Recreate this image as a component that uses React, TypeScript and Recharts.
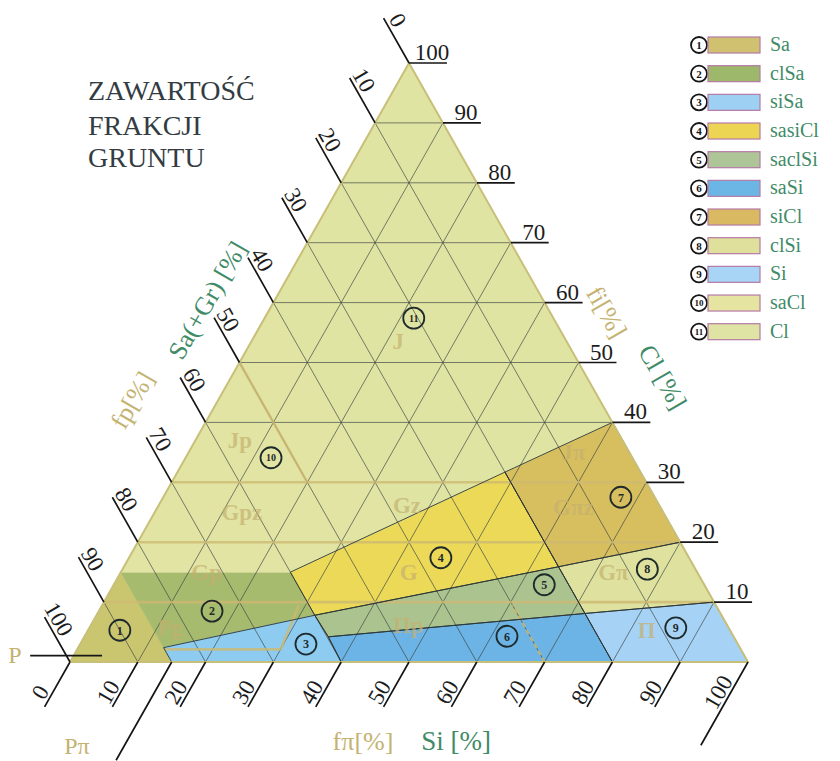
import React from 'react';
import { ScatterChart, Scatter, XAxis, YAxis } from 'recharts';

const WIDTH = 840;
const HEIGHT = 761;
const SERIF = '"Liberation Serif", "DejaVu Serif", serif';

// plot window: X = Si + Cl/2, Y = Cl (both in %), stretched over the whole page
const X_DOMAIN: [number, number] = [-10.324, 113.569];
const Y_DOMAIN: [number, number] = [-16.528, 110.518];

type TP = [number, number]; // [Si %, Cl %]

// --- Data ---
const classNames = ['Sa', 'clSa', 'siSa', 'sasiCl', 'saclSi', 'saSi', 'siCl', 'clSi', 'Si', 'saCl', 'Cl'];
const classFills = ['#cac670', '#a6bb6e', '#8ecbf1', '#ebd957', '#abc48f', '#6bb4e5', '#d7bf5f', '#dee29e', '#a6d3f5', '#e1e4a3', '#e0e4a3'];
const swatchFills = ['#cfc170', '#9db86b', '#9dd0f3', '#ecd552', '#aec697', '#6cb6e6', '#d9ba62', '#dfe09b', '#a8d4f5', '#e6e4a1', '#dfe3a3'];
const classPolygons: TP[][] = [
  [[0, 0], [0, 15], [15, 0]],
  [[0, 15], [25, 15], [32.2, 7.8], [12.6, 2.4]],
  [[12.6, 2.4], [32.2, 7.8], [36, 4.2], [40, 0], [15, 0]],
  [[25, 15], [48.3, 31.7], [64.1, 15.9], [32.2, 7.8]],
  [[32.2, 7.8], [64.1, 15.9], [71.9, 8.1], [36, 4.2]],
  [[36, 4.2], [71.9, 8.1], [80, 0], [40, 0]],
  [[48.3, 31.7], [60, 40], [80, 20], [64.1, 15.9]],
  [[64.1, 15.9], [80, 20], [90, 10], [71.9, 8.1]],
  [[71.9, 8.1], [90, 10], [100, 0], [80, 0]],
  [[0, 15], [0, 60], [36.7, 23.3], [25, 15]],
  [[0, 60], [0, 100], [60, 40], [48.3, 31.7], [36.7, 23.3]],
];
const outlinedClasses = [2, 3, 4, 5, 6, 7, 8];
const classMarks: TP[] = [
  [4.7, 5.3], [16.7, 8.5], [33.3, 3.0], [46, 17.4], [63.5, 12.9], [62.3, 4.3],
  [67.5, 27.5], [77.4, 15.5], [86.5, 5.7], [12.6, 34.1], [22, 57.4],
];

// old PN-86 soil names printed faintly in the triangle
const oldNames = ['J', 'Jp', 'Jπ', 'Gpz', 'Gz', 'Gπz', 'Gp', 'G', 'Gπ', 'Pg', 'Πp', 'Π'];
const oldNamePos: TP[] = [
  [21.6, 53.6], [6.5, 37.1], [56.7, 35.1], [12.8, 25.1], [36.6, 26.2], [61.3, 25.9],
  [12.6, 15.1], [42.4, 15.1], [72.6, 15.1], [11.8, 5.9], [46.8, 6.2], [82.4, 5.3],
];
const oldClayLevels = [10, 20, 30];
const oldGuides: [TP, TP][] = [
  [[0, 50], [20, 30]],
  [[12.9, 2.1], [30, 2.1]],
  [[30, 2.1], [29, 9.5]],
];
const oldGuidesDashed: [TP, TP][] = [[[70, 0], [60.5, 9.5]]];

const gridSteps = [10, 20, 30, 40, 50, 60, 70, 80, 90];
const darkClayLevels = [40, 50, 60, 70, 80, 90];
const tickValues = [0, 10, 20, 30, 40, 50, 60, 70, 80, 90, 100];
const clayTickValues = [10, 20, 30, 40, 50, 60, 70, 80, 90, 100];

// marker lines for P and Pπ
const pMarker: [TP, TP] = [[-6.4, 1.05], [4.2, 1.05]];
const pPiMarker: [TP, TP] = [[15, 0], [15, -16.4]];

// --- helpers ---
const tern = ([si, cl]: TP) => ({ x: si + cl / 2, y: cl });
const pairs = (segs: [TP, TP][]) => segs.flatMap(([a, b]) => [tern(a), tern(b)]);

const noDot = () => <g />;

const polygonLine = (fill: string, stroke: string, width: number) => (props: any) => {
  const pts = props.points || [];
  const d = pts.map((p: any, i: number) => `${i ? 'L' : 'M'}${p.x},${p.y}`).join(' ') + ' Z';
  return <path d={d} fill={fill} stroke={stroke} strokeWidth={width} strokeLinejoin="round" />;
};

const segmentLine = (stroke: string, width: number, dash?: string, opacity = 1) => (props: any) => {
  const pts = props.points || [];
  let d = '';
  for (let i = 0; i + 1 < pts.length; i += 2) {
    d += `M${pts[i].x},${pts[i].y}L${pts[i + 1].x},${pts[i + 1].y}`;
  }
  return <path d={d} fill="none" stroke={stroke} strokeWidth={width} strokeDasharray={dash} strokeOpacity={opacity} />;
};

// --- segment data built from the value arrays ---
const darkGrid = pairs([
  ...darkClayLevels.map((c): [TP, TP] => [[0, c], [100 - c, c]]),
  ...gridSteps.map((s): [TP, TP] => [[s, 0], [s, 100 - s]]),
  ...gridSteps.map((s): [TP, TP] => [[s, 0], [0, s]]),
]);
const tanGrid = pairs([...oldClayLevels.map((c): [TP, TP] => [[0, c], [100 - c, c]]), ...oldGuides]);
const tanDashed = pairs(oldGuidesDashed);

const tickLines = pairs([
  ...tickValues.map((v): [TP, TP] => [[v, 0], [v, v === 100 ? -13.9 : -7.5]]),
  ...tickValues.map((v): [TP, TP] => [[0, 100 - v], [-7.5, 107.5 - v]]),
  ...clayTickValues.map((v): [TP, TP] => [[100 - v, v], [105.6 - v, v]]),
  pMarker,
  pPiMarker,
]);

const bottomLabels = tickValues.map((v) => ({ ...tern([v, 0]), label: String(v) }));
const leftLabels = tickValues.map((v) => ({ ...tern([0, 100 - v]), label: String(v) }));
const rightLabels = clayTickValues.map((v) => ({ ...tern([100 - v, v]), label: String(v) }));
const markData = classMarks.map((p, i) => ({ ...tern(p), n: i + 1 }));
const oldNameData = oldNames.map((name, i) => ({ ...tern(oldNamePos[i]), name }));
const outline = [tern([0, 0]), tern([0, 100]), tern([100, 0])];

const tickText = { fontFamily: SERIF, fontSize: 23, fill: '#1c1c1c' } as const;

const bottomLabelShape = (p: any) => {
  const x = p.cx - 30;
  const y = p.cy + 30;
  return (
    <text x={x} y={y} dy="0.35em" textAnchor="middle" transform={`rotate(-60 ${x} ${y})`} {...tickText}>
      {p.payload.label}
    </text>
  );
};
const leftLabelShape = (p: any) => {
  const x = p.cx - 11;
  const y = p.cy - 43;
  return (
    <text x={x} y={y} dy="0.35em" textAnchor="middle" transform={`rotate(60 ${x} ${y})`} {...tickText}>
      {p.payload.label}
    </text>
  );
};
const rightLabelShape = (p: any) => (
  <text x={p.cx + 23} y={p.cy - 3} textAnchor="middle" {...tickText}>
    {p.payload.label}
  </text>
);
const markShape = (p: any) => (
  <g>
    <circle cx={p.cx} cy={p.cy} r={10.5} fill="none" stroke="#1f2a2c" strokeWidth={1.8} />
    <text x={p.cx} y={p.cy} dy="0.36em" textAnchor="middle" fontFamily={SERIF} fontWeight="bold"
      fontSize={p.payload.n > 9 ? 10 : 12} fill="#1f2a2c">
      {p.payload.n}
    </text>
  </g>
);
const oldNameShape = (p: any) => (
  <text x={p.cx} y={p.cy} dy="0.35em" textAnchor="middle" fontFamily={SERIF} fontWeight="bold"
    fontSize={23} fill="#c4b070" fillOpacity={0.7}>
    {p.payload.name}
  </text>
);

const TEAL = '#3f8b68';
const TAN = '#c4b271';

const Overlay: React.FC = () => (
  <svg width={WIDTH} height={HEIGHT} style={{ position: 'absolute', left: 0, top: 0, pointerEvents: 'none' }}>
    <g fontFamily={SERIF} fontSize={28} fill="#323c42">
      <text x={88} y={100}>ZAWARTOŚĆ</text>
      <text x={88} y={135}>FRAKCJI</text>
      <text x={88} y={167}>GRUNTU</text>
    </g>
    <g fontFamily={SERIF} fontSize={26} textAnchor="middle">
      <text x={207} y={300} dy="0.35em" fill={TEAL} transform="rotate(-60 207 300)">Sa(+Gr) [%]</text>
      <text x={132} y={400} dy="0.35em" fill={TAN} transform="rotate(-60 132 400)">fp[%]</text>
      <text x={607} y={312} dy="0.35em" fill={TAN} transform="rotate(60 607 312)">fi[%]</text>
      <text x={663} y={377} dy="0.35em" fill={TEAL} transform="rotate(60 663 377)">Cl [%]</text>
      <text x={363} y={750} fill={TAN}>fπ[%]</text>
      <text x={456} y={750} fill={TEAL} fontSize={27}>Si [%]</text>
      <text x={15} y={663} fill={TAN} fontSize={24}>P</text>
      <text x={77} y={754} fill={TAN} fontSize={24}>Pπ</text>
    </g>
    <g fontFamily={SERIF}>
      {classNames.map((name, i) => {
        const cy = 45 + i * 28.67;
        return (
          <g key={name}>
            <circle cx={699} cy={cy} r={8} fill="#fff" stroke="#151515" strokeWidth={1.8} />
            <text x={699} y={cy} dy="0.36em" textAnchor="middle" fontSize={i > 8 ? 9 : 11} fontWeight="bold" fill="#151515">
              {i + 1}
            </text>
            <rect x={708} y={cy - 8} width={52} height={16} fill={swatchFills[i]} stroke="#b57aa6" strokeWidth={1.2} />
            <text x={770} y={cy + 6} fontSize={20} fill={TEAL}>{name}</text>
          </g>
        );
      })}
    </g>
  </svg>
);

const App: React.FC = () => {
  return (
    <div style={{ position: 'absolute', left: 0, top: 0, width: WIDTH, height: HEIGHT, background: '#fff' }}>
      <ScatterChart width={WIDTH} height={HEIGHT} margin={{ top: 0, right: 0, bottom: 0, left: 0 }}>
        <XAxis type="number" dataKey="x" domain={X_DOMAIN} allowDataOverflow hide />
        <YAxis type="number" dataKey="y" domain={Y_DOMAIN} allowDataOverflow hide />

        {classPolygons.map((poly, i) => (
          <Scatter key={`class-${i}`} data={poly.map(tern)} shape={noDot} isAnimationActive={false}
            line={polygonLine(classFills[i], classFills[i], 0.6)} />
        ))}

        <Scatter data={darkGrid} shape={noDot} isAnimationActive={false} line={segmentLine('#3e4644', 0.8, undefined, 0.85)} />
        <Scatter data={tanGrid} shape={noDot} isAnimationActive={false} line={segmentLine('#cdb972', 2.6, undefined, 0.8)} />
        <Scatter data={tanDashed} shape={noDot} isAnimationActive={false} line={segmentLine('#cdb972', 2.4, '5 3', 0.8)} />

        {outlinedClasses.map((i) => (
          <Scatter key={`edge-${i}`} data={classPolygons[i].map(tern)} shape={noDot} isAnimationActive={false}
            line={polygonLine('none', '#2c3634', 0.9)} />
        ))}

        <Scatter data={outline} shape={noDot} isAnimationActive={false} line={polygonLine('none', '#c8bf78', 2)} />

        <Scatter data={oldNameData} shape={oldNameShape} isAnimationActive={false} />
        <Scatter data={markData} shape={markShape} isAnimationActive={false} />

        <Scatter data={tickLines} shape={noDot} isAnimationActive={false} line={segmentLine('#161616', 1.7)} />
        <Scatter data={bottomLabels} shape={bottomLabelShape} isAnimationActive={false} />
        <Scatter data={leftLabels} shape={leftLabelShape} isAnimationActive={false} />
        <Scatter data={rightLabels} shape={rightLabelShape} isAnimationActive={false} />
      </ScatterChart>
      <Overlay />
    </div>
  );
};

export default App;
